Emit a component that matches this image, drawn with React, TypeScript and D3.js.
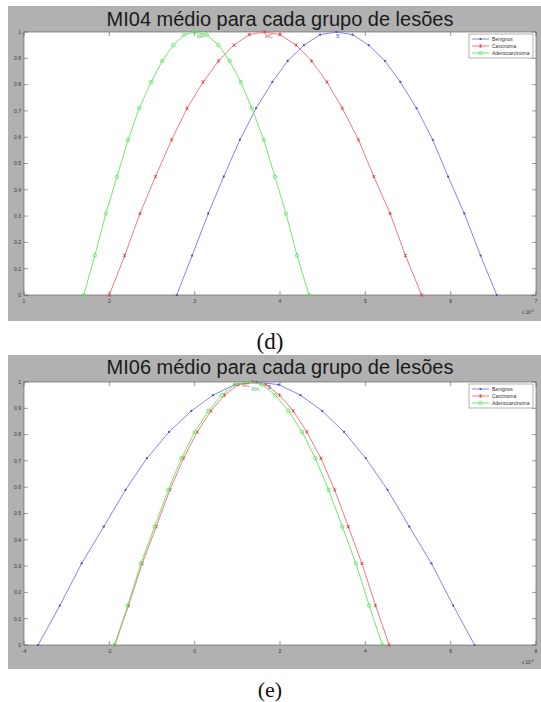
import React from "react";
import * as d3 from "d3";

// membership levels (same for every curve)
const muLevels = [0, 0.15, 0.31, 0.45, 0.59, 0.71, 0.81, 0.89, 0.95, 0.99, 1, 0.99, 0.95, 0.89, 0.81, 0.71, 0.59, 0.45, 0.31, 0.15, 0];

const seriesNames = ["Benignos", "Carcinoma", "Adenocarcinoma"];
const seriesColors = ["#7676ec", "#ee6c6c", "#64e464"];
const peakLabels = ["B", "MC", "MA"];

// MI04 (x 10^-3)
const mi04Benignos = [2.79, 2.97, 3.16, 3.34, 3.53, 3.72, 3.91, 4.09, 4.28, 4.47, 4.66, 4.85, 5.04, 5.23, 5.41, 5.6, 5.79, 5.97, 6.16, 6.35, 6.54];
const mi04Carcinoma = [2.0, 2.18, 2.36, 2.54, 2.73, 2.91, 3.1, 3.28, 3.46, 3.64, 3.82, 4.0, 4.19, 4.37, 4.55, 4.73, 4.92, 5.1, 5.29, 5.47, 5.66];
const mi04Adeno = [1.7, 1.83, 1.96, 2.09, 2.22, 2.35, 2.49, 2.62, 2.75, 2.88, 3.0, 3.14, 3.28, 3.41, 3.54, 3.67, 3.81, 3.94, 4.07, 4.2, 4.34];
const mi04Peaks = [4.68, 3.87, 3.07];
const mi04Ticks = [1, 2, 3, 4, 5, 6, 7];

// MI06
const mi06Benignos = [-3.67, -3.16, -2.65, -2.13, -1.62, -1.12, -0.6, -0.08, 0.43, 0.94, 1.45, 1.97, 2.48, 2.99, 3.5, 4.01, 4.52, 5.03, 5.55, 6.06, 6.56];
const mi06Carcinoma = [-1.87, -1.55, -1.23, -0.9, -0.58, -0.26, 0.06, 0.38, 0.7, 1.02, 1.35, 1.67, 1.99, 2.31, 2.63, 2.96, 3.28, 3.6, 3.92, 4.24, 4.56];
const mi06Adeno = [-1.88, -1.57, -1.26, -0.94, -0.62, -0.31, 0.0, 0.32, 0.63, 0.94, 1.27, 1.58, 1.89, 2.2, 2.52, 2.83, 3.14, 3.46, 3.78, 4.09, 4.4];
const mi06Peaks = [1.75, 1.2, 1.42];
const mi06Ticks = [-4, -2, 0, 2, 4, 6, 8];

const yTicks = [0, 0.1, 0.2, 0.3, 0.4, 0.5, 0.6, 0.7, 0.8, 0.9, 1];

const W = 541;
const H = 702;
const GRAY = "#b1b1b1";
const SANS = "Liberation Sans, Arial, sans-serif";

type Box = { frameTop: number; frameBottom: number; plotTop: number; plotBottom: number; titleY: number };

const Marker = ({ kind, x, y, color }: { kind: number; x: number; y: number; color: string }) => {
  if (kind === 0) return <circle cx={x} cy={y} r={1.1} fill="#4a4ac4" />;
  if (kind === 1)
    return (
      <path
        d={`M${x - 1.5},${y - 1.5}L${x + 1.5},${y + 1.5}M${x - 1.5},${y + 1.5}L${x + 1.5},${y - 1.5}M${x},${y - 1.7}V${y + 1.7}`}
        stroke="#d84444"
        strokeWidth={0.8}
      />
    );
  return <circle cx={x} cy={y} r={1.7} fill="none" stroke={color} strokeWidth={0.9} />;
};

const Panel = ({
  title,
  box,
  series,
  peaks,
  xTicks,
  peakDy,
}: {
  title: string;
  box: Box;
  series: number[][];
  peaks: number[];
  xTicks: number[];
  peakDy: number[];
}) => {
  const left = 24;
  const right = 536;
  const x = d3.scaleLinear().domain([xTicks[0], xTicks[xTicks.length - 1]]).range([left, right]);
  const y = d3.scaleLinear().domain([0, 1]).range([box.plotBottom, box.plotTop]);
  const line = d3
    .line<number>()
    .x((d) => d)
    .y((d, i) => y(muLevels[i]));
  const tl = 4;
  const lg = { x: 469, y: box.plotTop + 2, w: 64, h: 24 };

  return (
    <g>
      <rect x={8} y={box.frameTop} width={W - 8} height={box.frameBottom - box.frameTop} fill={GRAY} />
      <text x={280} y={box.titleY} textAnchor="middle" fontFamily={SANS} fontSize={20} fill="#1a1a1a">
        {title}
      </text>
      <rect x={left} y={box.plotTop} width={right - left} height={box.plotBottom - box.plotTop} fill="#fff" stroke="#555" strokeWidth={0.6} />
      {/* ticks */}
      {xTicks.map((t) => (
        <g key={"x" + t}>
          <line x1={x(t)} x2={x(t)} y1={box.plotBottom} y2={box.plotBottom - tl} stroke="#555" strokeWidth={0.6} />
          <line x1={x(t)} x2={x(t)} y1={box.plotTop} y2={box.plotTop + tl} stroke="#555" strokeWidth={0.6} />
          <text x={x(t)} y={box.plotBottom + 8} textAnchor="middle" fontFamily={SANS} fontSize={5} fill="#333">
            {t}
          </text>
        </g>
      ))}
      {yTicks.map((t) => (
        <g key={"y" + t}>
          <line x1={left} x2={left + tl} y1={y(t)} y2={y(t)} stroke="#555" strokeWidth={0.6} />
          <line x1={right} x2={right - tl} y1={y(t)} y2={y(t)} stroke="#555" strokeWidth={0.6} />
          <text x={left - 3} y={y(t) + 1.8} textAnchor="end" fontFamily={SANS} fontSize={5} fill="#333">
            {t}
          </text>
        </g>
      ))}
      <text x={522} y={box.plotBottom + 19} fontFamily={SANS} fontSize={4.5} fill="#333">
        x 10
        <tspan dy={-2} fontSize={3.5}>
          -3
        </tspan>
      </text>
      {/* curves */}
      {series.map((s, k) => (
        <g key={"s" + k}>
          <path d={line(s.map((v) => x(v))) || ""} fill="none" stroke={seriesColors[k]} strokeWidth={0.9} />
          {s.map((v, i) => (
            <Marker key={i} kind={k} x={x(v)} y={y(muLevels[i])} color={seriesColors[k]} />
          ))}
        </g>
      ))}
      {peaks.map((p, k) => (
        <text
          key={"p" + k}
          x={x(p)}
          y={y(1) + 6 + peakDy[k]}
          textAnchor="middle"
          fontFamily={SANS}
          fontSize={5}
          fill={d3.color(seriesColors[k])!.darker(0.6).toString()}
        >
          {peakLabels[k]}
        </text>
      ))}
      {/* legend */}
      <rect x={lg.x} y={lg.y} width={lg.w} height={lg.h} fill="#fff" stroke="#666" strokeWidth={0.5} />
      {seriesNames.map((n, k) => {
        const ly = lg.y + 5 + k * 7;
        return (
          <g key={"l" + n}>
            <line x1={lg.x + 3} x2={lg.x + 20} y1={ly} y2={ly} stroke={seriesColors[k]} strokeWidth={0.9} />
            <Marker kind={k} x={lg.x + 11.5} y={ly} color={seriesColors[k]} />
            <text x={lg.x + 23} y={ly + 1.7} fontFamily={SANS} fontSize={5} fill="#333">
              {n}
            </text>
          </g>
        );
      })}
    </g>
  );
};

export default function App() {
  return (
    <svg width={W} height={H} style={{ position: "absolute", left: 0, top: 0, background: "#fff" }}>
      <Panel
        title="MI04 médio para cada grupo de lesões"
        box={{ frameTop: 6, frameBottom: 321, plotTop: 32, plotBottom: 295, titleY: 26 }}
        series={[mi04Benignos, mi04Carcinoma, mi04Adeno]}
        peaks={mi04Peaks}
        peakDy={[0, 0, 0]}
        xTicks={mi04Ticks}
      />
      <text x={270} y={349} textAnchor="middle" fontFamily="Liberation Serif, Times New Roman, serif" fontSize={23} fill="#111">
        (d)
      </text>
      <Panel
        title="MI06 médio para cada grupo de lesões"
        box={{ frameTop: 355, frameBottom: 669, plotTop: 382, plotBottom: 645, titleY: 374 }}
        series={[mi06Benignos, mi06Carcinoma, mi06Adeno]}
        peaks={mi06Peaks}
        peakDy={[1, -1, 3]}
        xTicks={mi06Ticks}
      />
      <text x={270} y={697} textAnchor="middle" fontFamily="Liberation Serif, Times New Roman, serif" fontSize={22} fill="#111">
        (e)
      </text>
    </svg>
  );
}
